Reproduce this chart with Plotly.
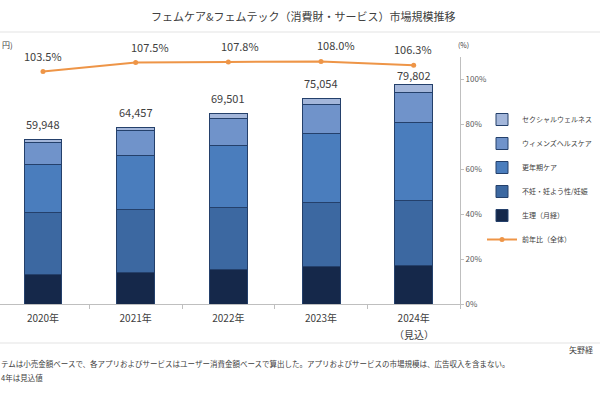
import plotly.graph_objects as go

# ---- data ----
years = ["2020年", "2021年", "2022年", "2023年", "2024年"]
est_note = "（見込）"
seiri = [10620, 11620, 12560, 13590, 13940]          # 生理（月経）
funin = [22700, 22800, 22740, 23430, 23650]          # 不妊・妊よう性/妊娠
kounenki = [17580, 19860, 22630, 25280, 28490]       # 更年期ケア
womens = [8060, 8830, 9750, 10565, 10920]            # ウィメンズヘルスケア
sexual = [990, 1350, 1820, 2190, 2800]               # セクシャルウェルネス
totals = [59948, 64457, 69501, 75054, 79802]
yoy = [103.5, 107.5, 107.8, 108.0, 106.3]
pct_ticks = [0, 20, 40, 60, 80, 100]
pct_labels = ["0%", "20%", "40%", "60%", "80%", "100%"]

names = ["生理（月経）", "不妊・妊よう性/妊娠", "更年期ケア", "ウィメンズヘルスケア", "セクシャルウェルネス"]
series = [seiri, funin, kounenki, womens, sexual]
colors = ["#15284a", "#3c68a1", "#4a7dbd", "#7093ca", "#a3b6da"]
ranks = [5, 4, 3, 2, 1]

FONT = "Noto Sans CJK JP"
W, H = 600, 400
L, R, T, B = 0, 140, 57, 96
PW, PH = W - L - R, H - T - B


def px2x(px):
    return (px - L) / PW


def px2y(py):
    return (H - B - py) / PH


fig = go.Figure()

for i, (nm, vals, col) in enumerate(zip(names, series, colors)):
    fig.add_trace(go.Bar(
        x=years, y=vals, name=nm, marker=dict(color=col, line=dict(color="#24406b", width=1)),
        width=0.41, legendgroup=f"g{i}", legendrank=ranks[i], hoverinfo="skip",
    ))

fig.add_trace(go.Scatter(
    x=years, y=yoy, name="前年比（全体）", yaxis="y2", mode="lines+markers",
    line=dict(color="#ee9547", width=2), marker=dict(size=5, color="#ee9547"),
    legendgroup="g6", legendrank=6, hoverinfo="skip",
))

annotations = []
# totals above bars
tot_shift = [5, 5, 5, 5, 0]
for x, t, s in zip(years, totals, tot_shift):
    annotations.append(dict(x=x, y=t, xref="x", yref="y", text=f"{t:,}", showarrow=False,
                            xanchor="center", yanchor="bottom", yshift=s,
                            font=dict(size=11, color="#404040", family=FONT)))
# yoy labels
yoy_xshift = [0, 14, 12, 15, -1]
for x, v, s in zip(years, yoy, yoy_xshift):
    annotations.append(dict(x=x, y=v, xref="x", yref="y2", text=f"{v:.1f}%", showarrow=False,
                            xanchor="center", yanchor="bottom", yshift=6, xshift=s,
                            font=dict(size=11, color="#404040", family=FONT)))

# "(見込)" under the last year label
annotations.append(dict(x=years[-1], y=px2y(334), xref="x", yref="paper", text=est_note,
                        showarrow=False, xanchor="center", yanchor="middle",
                        font=dict(size=10, color="#404040", family=FONT)))


def note(xpx, ypx, text, size, xanchor="left"):
    return dict(x=px2x(xpx), y=px2y(ypx), xref="paper", yref="paper", showarrow=False,
                xanchor=xanchor, yanchor="middle", text=text,
                font=dict(size=size, color="#404040", family=FONT))


annotations += [
    note(303, 16, "フェムケア&フェムテック（消費財・サービス）市場規模推移", 11, "center"),
    note(0, 44, "円)", 8),
    note(463, 45, "(%)", 7, "center"),
    note(567, 349, "矢野経", 8),
    note(-1, 363, "テムは小売金額ベースで、各アプリおよびサービスはユーザー消費金額ベースで算出した。アプリおよびサービスの市場規模は、広告収入を含まない。", 7.5),
    note(-1, 377, "4年は見込値", 7.5),
]

shapes = [
    dict(type="line", xref="paper", yref="paper", x0=px2x(0), x1=px2x(600), y0=px2y(32), y1=px2y(32),
         line=dict(color="#e3e3e3", width=1)),
    dict(type="line", xref="paper", yref="paper", x0=px2x(0), x1=px2x(600), y0=px2y(343), y1=px2y(343),
         line=dict(color="#e3e3e3", width=1)),
]

fig.update_layout(
    width=W, height=H,
    margin=dict(l=L, r=R, t=T, b=B, autoexpand=False),
    paper_bgcolor="white", plot_bgcolor="white",
    barmode="stack",
    hovermode=False,
    font=dict(family=FONT, color="#404040"),
    xaxis=dict(range=[-0.464, 4.5], showline=True, linecolor="#bfbfbf", ticks="outside",
               tickson="boundaries", ticklen=4, tickcolor="#bfbfbf", showgrid=False,
               ticklabelstandoff=5,
               tickfont=dict(size=10, color="#404040")),
    yaxis=dict(range=[0, 90000], visible=False, showgrid=False),
    yaxis2=dict(range=[0, 110], overlaying="y", side="right", tickmode="array",
                tickvals=pct_ticks, ticktext=pct_labels,
                showline=True, linecolor="#bfbfbf", ticks="outside", ticklen=3,
                tickcolor="#bfbfbf", showgrid=False, zeroline=False,
                tickfont=dict(size=8, color="#595959")),
    legend=dict(x=px2x(482), y=px2y(105), xanchor="left", yanchor="top",
                traceorder="grouped", tracegroupgap=5,
                font=dict(size=7, color="#404040", family=FONT), bgcolor="rgba(0,0,0,0)"),
    annotations=annotations,
    shapes=shapes,
)

fig.write_html("out.html", config={"displayModeBar": False},
               post_script="document.body.style.margin='0';")
